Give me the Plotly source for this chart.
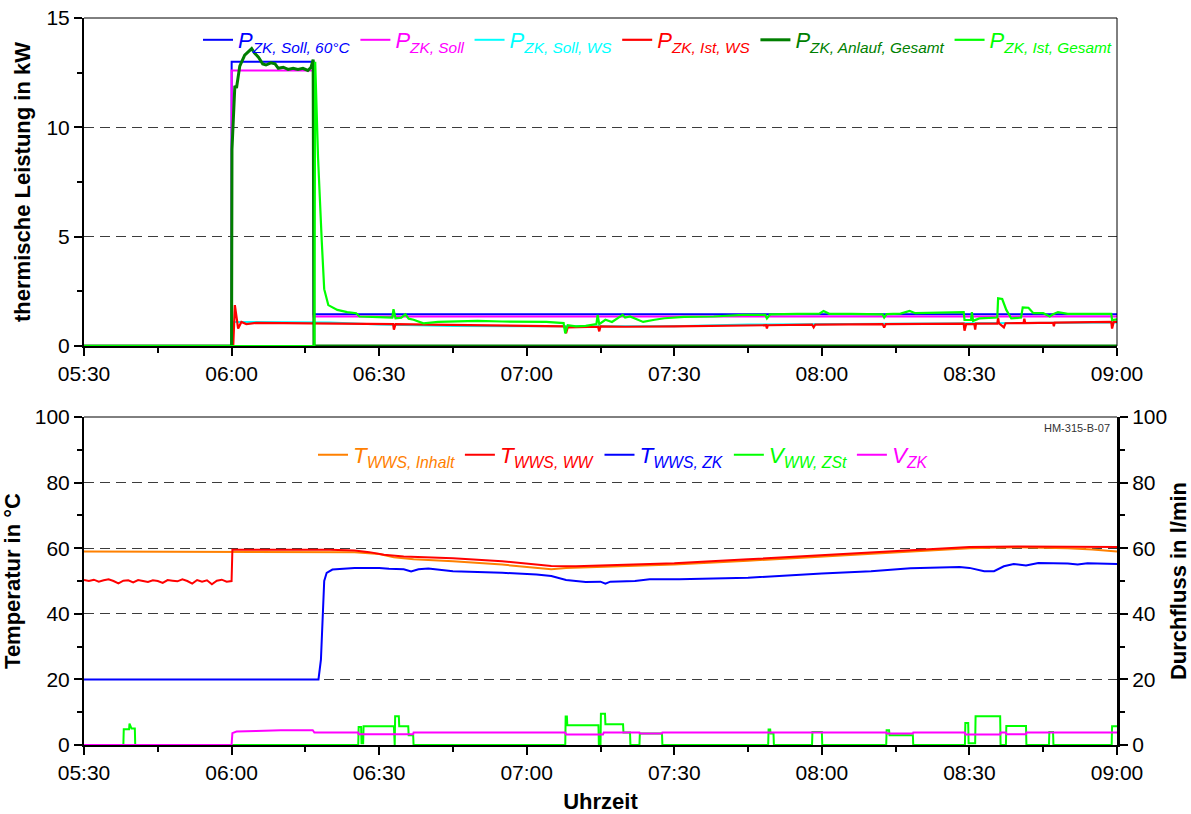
import pandas as pd
import plotly.graph_objects as go

DAY = "2021-01-15 "

# ---------------- upper panel: thermal power (kW) ----------------
p_soll60_t = ["05:30:00", "06:00:00", "06:00:01", "06:16:40", "06:16:41", "09:00:00"]
p_soll60_v = [0, 0, 13.0, 13.0, 1.45, 1.45]

p_soll_t = ["05:30:00", "06:00:00", "06:00:01", "06:16:40", "06:16:41", "09:00:00"]
p_soll_v = [0, 0, 12.6, 12.6, 1.35, 1.35]

p_soll_ws_t = ["05:30:00", "06:00:00", "06:00:05", "06:20:00", "06:30:00", "06:45:00", "07:00:00",
               "07:30:00", "07:45:00", "08:00:00", "08:30:00", "09:00:00"]
p_soll_ws_v = [0, 0, 1.1, 1.08, 0.98, 0.92, 0.9, 0.9, 0.98, 1.0, 1.04, 1.08]

p_ist_ws_t = ["05:30:00", "06:00:20", "06:00:40", "06:01:20", "06:02:00", "06:03:00", "06:05:00",
              "06:15:00", "06:25:00", "06:32:50", "06:33:00", "06:33:20", "06:40:00", "06:50:00",
              "07:00:00", "07:07:40", "07:08:00", "07:08:20", "07:14:30", "07:14:45", "07:15:00",
              "07:20:00", "07:30:00", "07:48:40", "07:48:50", "07:49:00", "07:58:00", "07:58:20",
              "07:58:40", "08:12:20", "08:12:40", "08:13:00", "08:28:50", "08:29:00", "08:29:20",
              "08:31:00", "08:31:10", "08:31:20", "08:35:40", "08:35:50", "08:36:00", "08:37:00",
              "08:37:20", "08:41:00", "08:41:10", "08:41:20", "08:47:00", "08:47:10", "08:47:20",
              "08:58:50", "08:59:00", "08:59:20", "09:00:00"]
p_ist_ws_v = [0, 0, 1.87, 0.8, 1.1, 1.0, 1.06, 1.05, 1.02, 1.0, 0.75, 1.0, 0.98, 0.95,
              0.92, 0.9, 0.58, 0.85, 0.88, 0.67, 0.9, 0.88, 0.9, 0.95, 0.8, 0.95, 0.98, 0.85,
              0.98, 1.0, 0.85, 1.0, 1.02, 0.7, 1.0, 1.0, 0.75, 1.02, 1.02, 1.28, 1.04, 0.85,
              1.04, 1.05, 1.25, 1.05, 1.07, 0.9, 1.07, 1.1, 0.8, 1.1, 1.1]

p_anlauf_t = ["05:30:00", "06:00:00", "06:00:05", "06:00:20", "06:00:40", "06:01:00", "06:01:40",
              "06:02:40", "06:03:30", "06:04:05", "06:04:40", "06:05:30", "06:06:20", "06:07:00",
              "06:08:00", "06:08:50", "06:09:30", "06:10:30", "06:11:30", "06:12:30", "06:13:30",
              "06:14:30", "06:15:30", "06:16:10", "06:16:35", "06:16:45", "09:00:00"]
p_anlauf_v = [0, 0, 9.0, 10.3, 11.9, 11.8, 12.8, 13.3, 13.5, 13.6, 13.4, 13.2, 12.9, 12.85,
              12.95, 12.9, 12.7, 12.75, 12.65, 12.7, 12.65, 12.7, 12.6, 12.75, 13.1, 0, 0]

p_ist_ges_t = ["05:30:00", "06:16:50", "06:17:00", "06:17:35", "06:18:20", "06:18:50", "06:19:40",
               "06:21:30", "06:23:30", "06:25:20", "06:26:00", "06:28:00", "06:30:00", "06:32:40",
               "06:32:55", "06:33:20", "06:34:30", "06:35:20", "06:36:00", "06:37:00", "06:39:00",
               "06:42:00", "06:50:00", "06:55:00", "07:00:00", "07:04:00", "07:07:30", "07:07:50",
               "07:08:20", "07:10:00", "07:12:00", "07:14:10", "07:14:25", "07:14:45", "07:16:00",
               "07:17:20", "07:19:30", "07:20:00", "07:21:00", "07:23:40", "07:26:00", "07:28:00",
               "07:32:00", "07:38:00", "07:44:00", "07:48:30", "07:48:50", "07:49:30", "07:55:00",
               "07:59:30", "08:00:20", "08:01:30", "08:06:00", "08:12:20", "08:12:40", "08:13:10",
               "08:16:00", "08:17:50", "08:19:00", "08:22:00", "08:25:00", "08:28:50", "08:29:00",
               "08:30:20", "08:30:30", "08:30:45", "08:32:00", "08:34:30", "08:35:40", "08:35:50",
               "08:36:40", "08:37:30", "08:38:30", "08:40:30", "08:40:50", "08:42:00", "08:43:00",
               "08:45:00", "08:46:20", "08:47:00", "08:48:00", "08:50:00", "08:58:50", "08:59:00",
               "09:00:00"]
p_ist_ges_v = [0, 0, 13.0, 8.6, 4.8, 2.6, 1.87, 1.65, 1.55, 1.5, 1.35, 1.35, 1.32, 1.3,
               1.68, 1.27, 1.3, 1.45, 1.25, 1.2, 1.04, 1.1, 1.15, 1.12, 1.12, 1.1, 1.05, 0.58,
               0.95, 0.9, 0.92, 1.0, 1.42, 1.0, 1.2, 1.1, 1.42, 1.3, 1.35, 1.1, 1.2, 1.27,
               1.33, 1.35, 1.42, 1.42, 1.26, 1.45, 1.47, 1.48, 1.6, 1.47, 1.47, 1.45, 1.3, 1.46,
               1.48, 1.6, 1.5, 1.52, 1.55, 1.55, 1.19, 1.2, 1.55, 1.15, 1.26, 1.3, 1.3, 2.18,
               2.15, 1.65, 1.26, 1.3, 1.77, 1.75, 1.5, 1.5, 1.35, 1.45, 1.55, 1.47, 1.47, 1.19,
               1.22]

# ---------------- lower panel: temperatures (°C) ----------------
t_inhalt_t = ["05:30", "06:00", "06:15", "06:25", "06:30", "06:33", "06:37", "06:45", "06:55",
              "07:00", "07:05", "07:08", "07:15", "07:30", "07:45", "08:00", "08:15", "08:30",
              "08:40", "08:50", "08:55", "09:00"]
t_inhalt_v = [59.0, 59.0, 59.0, 58.8, 58.2, 57.2, 56.6, 56.0, 55.0, 54.2, 53.6, 54.0, 54.3,
              55.0, 56.2, 57.5, 58.8, 60.0, 60.3, 60.0, 59.6, 59.0]

t_ww_t = ["05:30", "05:31", "05:32", "05:33", "05:34", "05:35", "05:36", "05:37", "05:38", "05:39",
          "05:40", "05:41", "05:42", "05:43", "05:44", "05:45", "05:46", "05:47", "05:48", "05:49",
          "05:50", "05:51", "05:52", "05:53", "05:54", "05:55", "05:56", "05:57", "05:58", "05:59",
          "06:00", "06:00:10", "06:20", "06:25", "06:28", "06:31", "06:35", "06:45", "06:55",
          "07:00", "07:05", "07:10", "07:30", "07:45", "08:00", "08:15", "08:30", "08:40", "08:50",
          "09:00"]
t_ww_v = [50.3, 50.0, 50.4, 49.8, 50.2, 50.5, 50.0, 49.3, 50.1, 50.2,
          49.6, 50.3, 50.0, 49.7, 50.2, 50.0, 49.4, 50.3, 50.1, 49.9,
          50.5, 50.0, 49.2, 50.3, 49.8, 50.2, 49.0, 50.1, 50.4, 49.8,
          50.0, 59.5, 59.5, 59.3, 58.8, 58.0, 57.5, 56.9, 56.0,
          55.3, 54.6, 54.5, 55.4, 56.6, 57.8, 59.2, 60.4, 60.5, 60.4,
          60.4]

t_zk_t = ["05:30", "06:17:40", "06:18:10", "06:18:50", "06:19:20", "06:20:30", "06:25", "06:30",
          "06:32", "06:35", "06:36:30", "06:38", "06:40", "06:45", "06:55", "07:02", "07:05",
          "07:08", "07:12", "07:15", "07:16", "07:17", "07:22", "07:25", "07:31", "07:45",
          "08:00", "08:10", "08:18", "08:28", "08:30", "08:33", "08:35", "08:37", "08:39",
          "08:41:30", "08:44", "08:50", "08:52", "08:54", "09:00"]
t_zk_v = [20.0, 20.0, 26.0, 50.0, 52.5, 53.5, 54.0, 54.0, 53.7, 53.6, 52.9, 53.6, 53.8, 53.0,
          52.5, 52.0, 51.5, 50.3, 49.7, 49.8, 49.2, 49.8, 50.0, 50.5, 50.5, 51.0, 52.3, 53.0,
          53.9, 54.3, 54.0, 53.0, 53.0, 54.5, 55.2, 54.7, 55.5, 55.3, 55.0, 55.4, 55.2]

# ---------------- lower panel: flow rates (l/min) ----------------
v_ww_t = ["05:30:00", "05:38:00", "05:38:05", "05:39:10", "05:39:15", "05:39:40", "05:40:20",
          "05:40:25", "06:25:45", "06:25:50", "06:26:20", "06:26:25", "06:26:45", "06:26:50",
          "06:33:00", "06:33:05", "06:33:10", "06:33:15", "06:34:00", "06:34:05", "06:35:55",
          "06:36:00", "06:36:55", "06:37:00", "07:07:50", "07:07:55", "07:08:10", "07:08:15",
          "07:14:35", "07:14:40", "07:15:00", "07:15:05", "07:15:55", "07:16:00", "07:19:35",
          "07:19:40", "07:21:00", "07:21:05", "07:22:55", "07:23:00", "07:27:30", "07:27:35",
          "07:49:05", "07:49:10", "07:49:30", "07:49:35", "07:50:10", "07:50:15", "07:58:00",
          "07:58:05", "08:00:00", "08:00:05", "08:13:05", "08:13:10", "08:13:40", "08:13:45",
          "08:18:30", "08:18:35", "08:29:05", "08:29:10", "08:29:45", "08:29:50", "08:31:10",
          "08:31:15", "08:36:15", "08:36:20", "08:37:25", "08:37:30", "08:41:30", "08:41:35",
          "08:46:10", "08:46:15", "08:47:00", "08:47:05", "08:58:55", "08:59:00", "09:00:00"]
v_ww_v = [0, 0, 4.8, 4.8, 6.5, 5.0, 5.0,
          0, 0, 5.5, 5.5, 0.5, 0.5, 5.7,
          5.7, 0, 0, 8.8, 8.8, 5.7, 5.7,
          3.0, 3.0, 0, 0, 8.7, 8.7, 6.0,
          6.0, 0, 0, 9.5, 9.5, 6.3, 6.3,
          3.8, 3.8, 0, 0, 3.5, 3.5, 0,
          0, 4.7, 4.7, 3.5, 3.5, 0, 0,
          4.0, 4.0, 0, 0, 4.5, 4.5, 3.0,
          3.0, 0, 0, 6.7, 6.7, 0.5, 0.5,
          8.8, 8.8, 0, 0, 5.8, 5.8, 0,
          0, 4.0, 4.0, 0, 0, 5.7, 5.7]

v_zk_t = ["05:30:00", "06:00:00", "06:00:10", "06:01:00", "06:05:00", "06:10:00", "06:16:30",
          "06:16:50", "06:25:45", "06:25:50", "06:36:55", "06:37:00", "07:07:50", "07:08:00",
          "07:15:30", "07:15:40", "07:22:55", "07:23:00", "07:27:30", "07:27:35", "08:13:05",
          "08:13:10", "08:18:30", "08:18:35", "08:29:05", "08:29:10", "08:36:15", "08:36:20",
          "08:37:25", "08:37:30", "08:41:30", "08:41:35", "09:00:00"]
v_zk_v = [0, 0, 3.6, 4.1, 4.3, 4.5, 4.5,
          3.8, 3.8, 3.3, 3.3, 3.8, 3.8, 3.2,
          3.2, 3.8, 3.8, 3.5, 3.5, 3.8, 3.8,
          3.5, 3.5, 3.8, 3.8, 3.2, 3.2, 3.8,
          3.8, 3.3, 3.3, 3.8, 3.8]


def ts(times):
    full = [t if t.count(":") == 2 else t + ":00" for t in times]
    return pd.to_datetime([DAY + t for t in full], format="%Y-%m-%d %H:%M:%S")


def label(sym, sub, color):
    return f'<span style="color:{color}"><i>{sym}<sub>{sub}</sub></i></span>'


BLUE, MAGENTA, CYAN, RED = "#0000ff", "#ff00ff", "#00ffff", "#ff0000"
DKGREEN, LTGREEN, ORANGE = "#007f00", "#00ff00", "#ff8000"

fig = go.Figure()

top = [
    (p_soll60_t, p_soll60_v, BLUE, "P", "ZK, Soll, 60°C", 2),
    (p_soll_t, p_soll_v, MAGENTA, "P", "ZK, Soll", 2),
    (p_soll_ws_t, p_soll_ws_v, CYAN, "P", "ZK, Soll, WS", 2),
    (p_ist_ws_t, p_ist_ws_v, RED, "P", "ZK, Ist, WS", 2.2),
    (p_anlauf_t, p_anlauf_v, DKGREEN, "P", "ZK, Anlauf, Gesamt", 3),
    (p_ist_ges_t, p_ist_ges_v, LTGREEN, "P", "ZK, Ist, Gesamt", 2.2),
]
for t, v, c, s, sub, w in top:
    fig.add_trace(go.Scatter(x=ts(t), y=v, mode="lines", line=dict(color=c, width=w),
                             name=label(s, sub, c), xaxis="x", yaxis="y", legend="legend"))

bottom = [
    (t_inhalt_t, t_inhalt_v, ORANGE, "T", "WWS, Inhalt", "y2"),
    (t_ww_t, t_ww_v, RED, "T", "WWS, WW", "y2"),
    (t_zk_t, t_zk_v, BLUE, "T", "WWS, ZK", "y2"),
    (v_ww_t, v_ww_v, LTGREEN, "V", "WW, ZSt", "y3"),
    (v_zk_t, v_zk_v, MAGENTA, "V", "ZK", "y3"),
]
for t, v, c, s, sub, ax in bottom:
    fig.add_trace(go.Scatter(x=ts(t), y=v, mode="lines", line=dict(color=c, width=2),
                             name=label(s, sub, c), xaxis="x2", yaxis=ax, legend="legend2"))

FONT = "Liberation Sans, Arial, sans-serif"
TICKF = dict(family=FONT, size=21, color="black")
TITLEF = dict(family=FONT, size=22, color="black")
GRID = dict(showgrid=True, gridcolor="#3c3c3c", gridwidth=1, griddash="10px,6px")

x0, x1 = DAY + "05:30", DAY + "09:00"
xcommon = dict(type="date", range=[x0, x1], tick0=x0, dtick=30 * 60 * 1000, tickformat="%H:%M",
               ticks="outside", ticklen=8, tickwidth=1.5, tickcolor="black",
               showline=True, linecolor="black", linewidth=2, showgrid=False, zeroline=False,
               tickfont=TICKF, automargin=False,
               minor=dict(dtick=15 * 60 * 1000, ticks="outside", ticklen=5, tickwidth=1.5,
                          tickcolor="black", showgrid=False))

TOP_LO = (745 - 346) / 727
BOT_HI = (745 - 417) / 727

fig.update_layout(
    width=1191, height=814,
    margin=dict(l=84, r=74, t=18, b=69),
    paper_bgcolor="white", plot_bgcolor="white",
    font=dict(family=FONT, color="black"),
    xaxis=dict(xcommon, anchor="y", domain=[0, 1]),
    xaxis2=dict(xcommon, anchor="y2", domain=[0, 1],
                title=dict(text="<b>Uhrzeit</b>", font=TITLEF, standoff=10)),
    yaxis=dict(domain=[TOP_LO, 1], anchor="x", range=[0, 15], tickvals=[0, 5, 10, 15],
               ticks="outside", ticklen=8, tickwidth=1.5, tickcolor="black",
               showline=True, linecolor="black", linewidth=2, zeroline=False,
               tickfont=TICKF, automargin=False,
               title=dict(text="<b>thermische Leistung in kW</b>", font=TITLEF, standoff=10),
               minor=dict(tickvals=[2.5, 7.5, 12.5], ticks="outside", ticklen=5,
                          tickwidth=1.5, tickcolor="black", showgrid=False),
               **GRID),
    yaxis2=dict(domain=[0, BOT_HI], anchor="x2", range=[0, 100], tickvals=[0, 20, 40, 60, 80, 100],
                ticks="outside", ticklen=8, tickwidth=1.5, tickcolor="black",
                showline=True, linecolor="black", linewidth=2, zeroline=False,
                tickfont=TICKF, automargin=False,
                title=dict(text="<b>Temperatur in °C</b>", font=TITLEF, standoff=10),
                minor=dict(tickvals=[10, 30, 50, 70, 90], ticks="outside", ticklen=5,
                           tickwidth=1.5, tickcolor="black", showgrid=False),
                **GRID),
    yaxis3=dict(overlaying="y2", anchor="x2", side="right", range=[0, 100],
                tickvals=[0, 20, 40, 60, 80, 100],
                ticks="outside", ticklen=8, tickwidth=1.5, tickcolor="black",
                showline=True, linecolor="black", linewidth=3, zeroline=False, showgrid=False,
                tickfont=TICKF, automargin=False,
                title=dict(text="<b>Durchfluss in l/min</b>", font=TITLEF, standoff=10),
                minor=dict(tickvals=[10, 30, 50, 70, 90], ticks="outside", ticklen=5,
                           tickwidth=1.5, tickcolor="black", showgrid=False)),
    legend=dict(orientation="h", x=1.0, xanchor="right", y=(745 - 40) / 727, yanchor="middle",
                bgcolor="rgba(0,0,0,0)", font=dict(family=FONT, size=22),
                itemwidth=30, tracegroupgap=0),
    legend2=dict(orientation="h", x=(313 - 84) / 1033, xanchor="left", y=(745 - 455) / 727,
                 yanchor="middle", bgcolor="rgba(0,0,0,0)", font=dict(family=FONT, size=22.5),
                 itemwidth=30),
    showlegend=True,
)

# thin frame lines closing the two plot boxes
frame = dict(type="line", line=dict(color="black", width=1), layer="above")
fig.add_shape(frame, xref="x domain", yref="y domain", x0=0, x1=1, y0=1, y1=1)
fig.add_shape(frame, xref="x domain", yref="y domain", x0=1, x1=1, y0=0, y1=1)
fig.add_shape(frame, xref="x2 domain", yref="y2 domain", x0=0, x1=1, y0=1, y1=1)

fig.add_annotation(text="HM-315-B-07", xref="x2 domain", yref="y2 domain", x=0.995, y=0.99,
                   xanchor="right", yanchor="top", showarrow=False,
                   font=dict(family=FONT, size=11, color="#333333"))

fig.write_html("out.html")
